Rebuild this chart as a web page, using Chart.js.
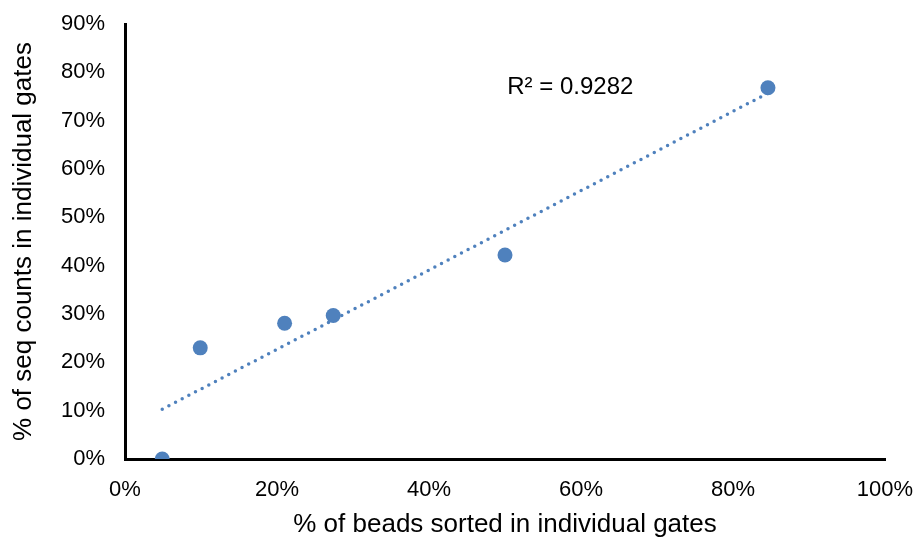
<!DOCTYPE html>
<html>
<head>
<meta charset="utf-8">
<script src="https://cdn.jsdelivr.net/npm/chart.js@4/dist/chart.umd.min.js"></script>
<style>
  html, body { margin: 0; padding: 0; background: #fff; }
  #wrap { width: 919px; height: 537px; }
</style>
</head>
<body>
<div id="wrap"><canvas id="chart" width="919" height="537"></canvas></div>
<script>
// values (percent)
const beadsPct = [4.9, 9.9, 21.0, 27.4, 50.0, 84.6];
const seqPct   = [0.0, 23.0, 28.1, 29.7, 42.2, 76.8];
// dotted linear trendline endpoints
const trendX = [4.9, 84.6];
const trendY = [10.3, 75.7];
const r2Label = 'R² = 0.9282';

const FONT = "'Liberation Sans', Arial, sans-serif";
const BLUE = '#4F81BD';

// writes the R² text at a data position
const r2Plugin = {
    id: 'r2Label',
    afterDatasetsDraw(chart) {
        const { ctx, scales } = chart;
        const x = scales.x.getPixelForValue(50.3);
        const y = scales.y.getPixelForValue(76.8);
        ctx.save();
        ctx.font = '24px ' + FONT;
        ctx.fillStyle = '#000';
        ctx.textAlign = 'left';
        ctx.textBaseline = 'middle';
        ctx.fillText(r2Label, x, y);
        ctx.restore();
    }
};

// fixed box sizes so the plot area lands where it does in the picture
function fixBox(scale, prop, size) {
    scale[prop] = size;
    scale.paddingTop = 0;
    scale.paddingBottom = 0;
    scale.paddingLeft = 0;
    scale.paddingRight = 0;
}

const points = beadsPct.map((v, i) => ({ x: v, y: seqPct[i] }));
const trend = trendX.map((v, i) => ({ x: v, y: trendY[i] }));

new Chart(document.getElementById('chart'), {
    type: 'scatter',
    data: {
        datasets: [
            {
                label: 'seq',
                data: points,
                backgroundColor: BLUE,
                borderColor: BLUE,
                pointRadius: 7.5,
                pointBorderWidth: 0,
                order: 1
            },
            {
                label: 'trend',
                type: 'line',
                data: trend,
                showLine: true,
                borderColor: BLUE,
                borderWidth: 3.5,
                borderDash: [0, 7.5],
                borderCapStyle: 'round',
                pointRadius: 0,
                fill: false,
                order: 2
            }
        ]
    },
    options: {
        responsive: false,
        animation: false,
        layout: { padding: { top: 24, right: 34, left: 0, bottom: 0 } },
        plugins: {
            legend: { display: false },
            tooltip: { enabled: false }
        },
        scales: {
            x: {
                type: 'linear',
                min: 0,
                max: 100,
                afterFit: (scale) => fixBox(scale, 'height', 78),
                ticks: {
                    stepSize: 20,
                    padding: 18,
                    color: '#000',
                    font: { family: FONT, size: 22 },
                    callback: (v) => v + '%'
                },
                grid: { display: false, drawTicks: false },
                border: { display: true, color: '#000', width: 3 },
                title: {
                    display: true,
                    text: '% of beads sorted in individual gates',
                    color: '#000',
                    font: { family: FONT, size: 26 },
                    padding: { top: 0, bottom: -3 }
                }
            },
            y: {
                type: 'linear',
                min: 0,
                max: 90,
                afterFit: (scale) => fixBox(scale, 'width', 125),
                ticks: {
                    stepSize: 10,
                    padding: 20,
                    color: '#000',
                    font: { family: FONT, size: 22 },
                    callback: (v) => v + '%'
                },
                grid: { display: false, drawTicks: false },
                border: { display: true, color: '#000', width: 3 },
                title: {
                    display: true,
                    text: '% of seq counts in individual gates',
                    color: '#000',
                    font: { family: FONT, size: 26 },
                    padding: { top: 8, bottom: 0 }
                }
            }
        }
    },
    plugins: [r2Plugin]
});
</script>
</body>
</html>
